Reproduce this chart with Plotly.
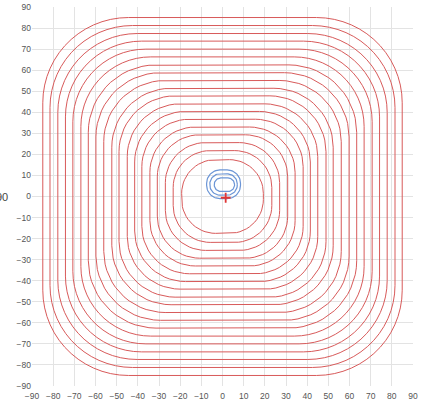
import numpy as np
import plotly.graph_objects as go

# red contours: half width, half height, corner radius
red_half_w = [19.3, 23.3, 27.0, 30.8, 34.3, 38.1, 41.5, 45.0, 48.9, 52.3,
              56.1, 59.8, 63.4, 66.9, 70.7, 74.2, 77.8, 81.5, 84.9]
red_half_h = [17.5, 21.8, 25.6, 29.3, 33.0, 36.7, 40.4, 44.0, 47.8, 51.4,
              55.1, 58.8, 62.5, 66.3, 70.0, 73.8, 77.4, 81.2, 85.0]
red_corner = [16.0, 17.5, 19.0, 20.0, 21.5, 22.5, 24.0, 25.0, 26.5, 28.0,
              29.0, 30.5, 32.0, 33.0, 34.5, 36.0, 37.5, 39.0, 40.5]

# blue loops around the centre
blue_cx = [0.5, 0.5, 0.9]
blue_cy = [5.8, 5.7, 5.6]
blue_half_w = [8.0, 6.5, 4.8]
blue_half_h = [6.8, 5.1, 3.2]
blue_corner = [6.3, 4.9, 3.1]

marker_x = [1.5]
marker_y = [-0.6]

ticks = list(range(-90, 91, 10))


def rounded_rect(cx, cy, hw, hh, r):
    r = min(r, hw, hh)
    xs, ys = [], []
    corners = [(hw - r, hh - r, 0), (-(hw - r), hh - r, 90),
               (-(hw - r), -(hh - r), 180), (hw - r, -(hh - r), 270)]
    for ox, oy, start in corners:
        t = np.radians(np.linspace(start, start + 90, 16))
        xs.extend(cx + ox + r * np.cos(t))
        ys.extend(cy + oy + r * np.sin(t))
    xs.append(xs[0])
    ys.append(ys[0])
    return xs, ys


fig = go.Figure()

for w, h, c in zip(red_half_w, red_half_h, red_corner):
    x, y = rounded_rect(0, 0, w, h, c)
    fig.add_trace(go.Scatter(x=x, y=y, mode='lines',
                             line=dict(color='#d85a5a', width=1)))

for cx, cy, w, h, c in zip(blue_cx, blue_cy, blue_half_w, blue_half_h, blue_corner):
    x, y = rounded_rect(cx, cy, w, h, c)
    fig.add_trace(go.Scatter(x=x, y=y, mode='lines',
                             line=dict(color='#6b95d6', width=1.2)))

fig.add_trace(go.Scatter(x=marker_x, y=marker_y, mode='markers',
                         marker=dict(symbol='cross-thin', size=7,
                                     line=dict(color='#e03535', width=1.8))))

axis_style = dict(range=[-90, 90], tickvals=ticks, showgrid=True,
                  gridcolor='#e3e3e3', zeroline=False, showline=False,
                  automargin=False,
                  tickfont=dict(family='Liberation Sans', size=8.5, color='#555'),
                  fixedrange=True)

fig.update_xaxes(ticklabelstandoff=3, **axis_style)
fig.update_yaxes(**axis_style)

fig.add_annotation(text='90', xref='paper', yref='y', x=-0.058, xanchor='right',
                   y=0, showarrow=False,
                   font=dict(family='Liberation Sans', size=11, color='#444'))

fig.update_layout(width=433, height=402, autosize=False, showlegend=False,
                  plot_bgcolor='white', paper_bgcolor='white',
                  margin=dict(l=32, r=20, t=7, b=16))

fig.write_html("out.html", config={'displayModeBar': False},
               post_script="document.body.style.margin='0';")
